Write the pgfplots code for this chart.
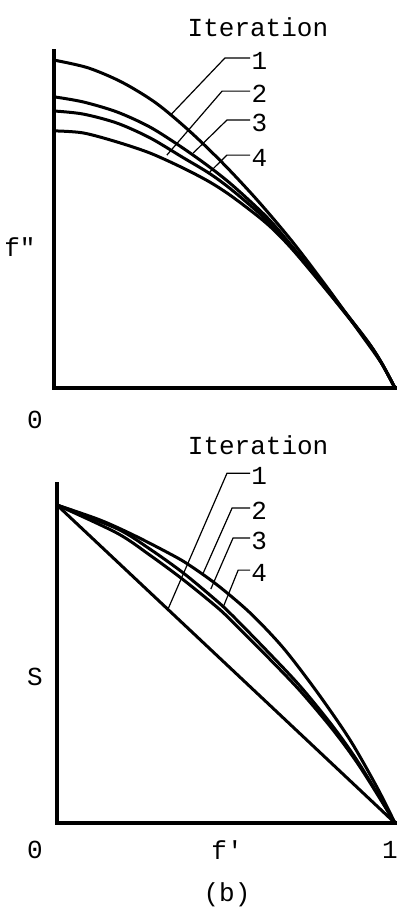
\documentclass[border=0pt]{standalone}
\usepackage{fontspec}
\setmonofont{Liberation Mono}
\usepackage{pgfplots}
\pgfplotsset{compat=1.18}

\pgfplotsset{
  flowfig/.style={
    scale only axis, axis lines*=left,
    axis line style={line width=1.6pt, line cap=rect},
    xmin=0, xmax=1, ymin=0, ymax=1,
    xtick=\empty, ytick=\empty,
    clip=false, enlargelimits=false,
  },
  curve/.style={black, line width=1.5pt, smooth, no marks},
  leader/.style={black, line width=0.6pt, no marks},
}
\tikzset{lbl/.style={font=\ttfamily\fontsize{13}{15}\selectfont, inner sep=0pt}}

\begin{document}
\begin{tikzpicture}
\useasboundingbox (0,0) rectangle (198.5pt,-454.5pt);

% upper panel: f'' against f'
\begin{axis}[flowfig, at={(27pt,-194pt)}, anchor=south west,
    width=170.5pt, height=168.5pt]
\addplot[curve] coordinates {(0,0.973) (0.1,0.950) (0.2,0.907) (0.3,0.845)
  (0.4,0.760) (0.5,0.662) (0.6,0.553) (0.7,0.433) (0.8,0.300) (0.9,0.160)
  (0.96,0.074) (1,0)};
\addplot[curve] coordinates {(0,0.864) (0.085,0.849) (0.185,0.819) (0.282,0.774)
  (0.378,0.712) (0.457,0.655) (0.525,0.600) (0.625,0.506) (0.701,0.417)
  (0.818,0.271) (0.918,0.141) (0.96,0.076) (1,0)};
\addplot[curve] coordinates {(0,0.822) (0.085,0.813) (0.185,0.786) (0.282,0.742)
  (0.378,0.684) (0.457,0.636) (0.525,0.585) (0.625,0.497) (0.701,0.413)
  (0.818,0.269) (0.918,0.140) (0.96,0.075) (1,0)};
\addplot[curve] coordinates {(0,0.763) (0.085,0.757) (0.185,0.730) (0.282,0.697)
  (0.378,0.653) (0.457,0.611) (0.525,0.566) (0.625,0.487) (0.701,0.409)
  (0.818,0.267) (0.918,0.139) (0.96,0.075) (1,0)};
\addplot[leader] coordinates {(0.575,0.979) (0.501,0.979) (0.340,0.808)};
\addplot[leader] coordinates {(0.575,0.881) (0.493,0.881) (0.331,0.691)};
\addplot[leader] coordinates {(0.575,0.795) (0.507,0.795) (0.408,0.697)};
\addplot[leader] coordinates {(0.575,0.691) (0.507,0.691) (0.457,0.641)};
\node[lbl, anchor=west, yshift=-1.5pt] at (axis cs:0.578,0.979) {1};
\node[lbl, anchor=west, yshift=-1.5pt] at (axis cs:0.578,0.881) {2};
\node[lbl, anchor=west, yshift=-1.5pt] at (axis cs:0.578,0.795) {3};
\node[lbl, anchor=west, yshift=-1.5pt] at (axis cs:0.578,0.691) {4};
\node[lbl] at (axis cs:0.598,1.071) {Iteration};
\node[lbl] at (axis cs:-0.10,0.418) {f"};
\node[lbl] at (axis cs:-0.056,-0.095) {0};
\end{axis}

% lower panel: S against f'
\begin{axis}[flowfig, at={(28.5pt,-411.5pt)}, anchor=south west,
    width=169pt, height=169.5pt]
\addplot[curve] coordinates {(0,0.938) (1,0)};
\addplot[curve] coordinates {(0,0.938) (0.127,0.894) (0.225,0.850) (0.325,0.799)
  (0.385,0.765) (0.473,0.703) (0.571,0.620) (0.669,0.517) (0.769,0.387)
  (0.867,0.245) (0.947,0.105) (1,0)};
\addplot[curve] coordinates {(0,0.938) (0.178,0.868) (0.275,0.808) (0.373,0.738)
  (0.473,0.655) (0.521,0.610) (0.621,0.508) (0.719,0.404) (0.817,0.284)
  (0.896,0.172) (1,0)};
\addplot[curve] coordinates {(0,0.938) (0.178,0.855) (0.275,0.790) (0.373,0.718)
  (0.473,0.637) (0.521,0.592) (0.621,0.492) (0.719,0.390) (0.817,0.274)
  (0.896,0.166) (1,0)};
\addplot[leader] coordinates {(0.571,1.032) (0.503,1.032) (0.328,0.630)};
\addplot[leader] coordinates {(0.571,0.929) (0.518,0.929) (0.432,0.736)};
\addplot[leader] coordinates {(0.571,0.841) (0.521,0.841) (0.455,0.690)};
\addplot[leader] coordinates {(0.571,0.746) (0.536,0.746) (0.491,0.635)};
\node[lbl, anchor=west, yshift=-1.5pt] at (axis cs:0.574,1.032) {1};
\node[lbl, anchor=west, yshift=-1.5pt] at (axis cs:0.574,0.929) {2};
\node[lbl, anchor=west, yshift=-1.5pt] at (axis cs:0.574,0.841) {3};
\node[lbl, anchor=west, yshift=-1.5pt] at (axis cs:0.574,0.746) {4};
\node[lbl] at (axis cs:0.595,1.115) {Iteration};
\node[lbl] at (axis cs:-0.065,0.431) {S};
\node[lbl] at (axis cs:-0.065,-0.080) {0};
\node[lbl] at (axis cs:0.503,-0.080) {f'};
\node[lbl] at (axis cs:0.985,-0.080) {1};
\node[lbl] at (axis cs:0.503,-0.212) {(b)};
\end{axis}
\end{tikzpicture}
\end{document}
